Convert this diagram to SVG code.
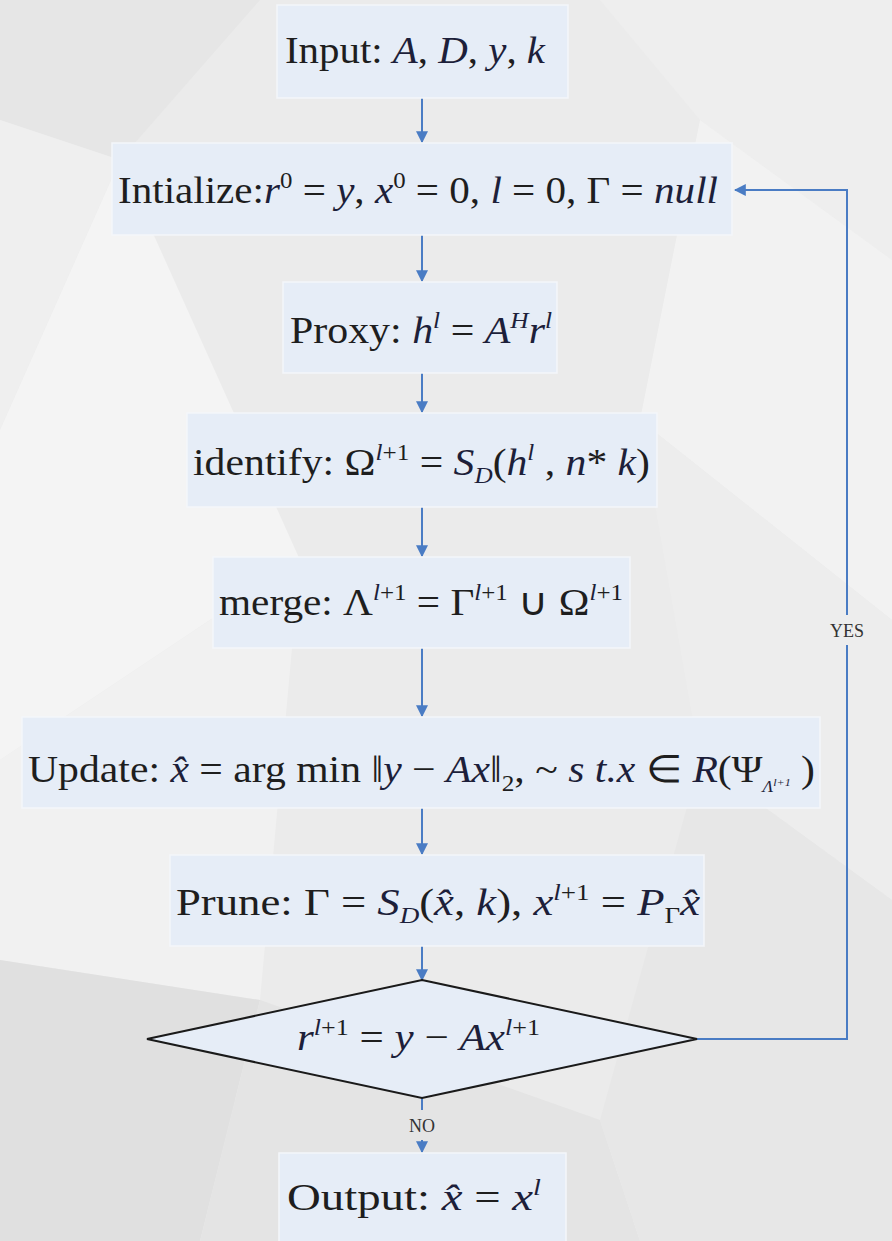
<svg xmlns="http://www.w3.org/2000/svg" width="892" height="1241" viewBox="0 0 892 1241">
<defs>
<marker id="ah" viewBox="0 0 10 10" refX="9" refY="5" markerWidth="6" markerHeight="6" orient="auto" markerUnits="strokeWidth">
<path d="M0,0 L10,5 L0,10 z" fill="#4a7cc4"/>
</marker>
</defs>
<style>
.bx{fill:#e6edf7;stroke:#f4f6fa;stroke-width:1.5}
.dm{fill:#e6edf7;stroke:#1a1a1a;stroke-width:2}
.t{font-family:"Liberation Serif","Times New Roman",serif;font-size:38px;fill:#1e1e1e}
.m{font-style:italic;fill:#1d1f3a}
.s{font-size:23px}
.c{stroke:#4a7cc4;stroke-width:2;fill:none}
.lb{font-family:"Liberation Serif","Times New Roman",serif;font-size:18px;fill:#333;text-anchor:middle}
</style>
<g id="background">
<rect x="0" y="0" width="892" height="1241" fill="#ebebeb"/>
<polygon points="0,0 260,0 120,160 0,120" fill="#e6e6e6"/>
<polygon points="0,120 120,160 0,430" fill="#efefef"/>
<polygon points="0,430 120,160 300,560 0,760" fill="#f4f4f4"/>
<polygon points="600,0 892,0 892,260 700,120" fill="#eeeeee"/>
<polygon points="700,120 892,260 892,620 640,420" fill="#f2f2f2"/>
<polygon points="640,420 892,620 892,900 700,760" fill="#ededed"/>
<polygon points="0,760 300,560 260,1000 0,960" fill="#f1f1f1"/>
<polygon points="0,960 260,1000 200,1241 0,1241" fill="#e0e0e0"/>
<polygon points="200,1241 260,1000 600,1120 640,1241" fill="#e4e4e4"/>
<polygon points="700,760 892,900 892,1241 640,1241 600,1120" fill="#e7e7e7"/>
</g>
<g id="connectors">
<line class="c" x1="422" y1="98" x2="422" y2="142" marker-end="url(#ah)"/>
<line class="c" x1="422" y1="235" x2="422" y2="281" marker-end="url(#ah)"/>
<line class="c" x1="422" y1="373" x2="422" y2="412" marker-end="url(#ah)"/>
<line class="c" x1="422" y1="507" x2="422" y2="556" marker-end="url(#ah)"/>
<line class="c" x1="422" y1="648" x2="422" y2="716" marker-end="url(#ah)"/>
<line class="c" x1="422" y1="808" x2="422" y2="854" marker-end="url(#ah)"/>
<line class="c" x1="422" y1="946" x2="422" y2="980" marker-end="url(#ah)"/>
<line class="c" x1="422" y1="1098" x2="422" y2="1110"/>
<line class="c" x1="422" y1="1140" x2="422" y2="1152" marker-end="url(#ah)"/>
<polyline class="c" points="697,1039 847,1039 847,645"/>
<polyline class="c" points="847,615 847,190 735,190" marker-end="url(#ah)"/>
<text class="lb" x="847" y="637">YES</text>
<text class="lb" x="422" y="1132">NO</text>
</g>
<g id="input">
<rect class="bx" x="277" y="5" width="291" height="93"/>
<text class="t" x="285" y="63" textLength="260" lengthAdjust="spacingAndGlyphs">Input: <tspan class="m">A</tspan>, <tspan class="m">D</tspan>, <tspan class="m">y</tspan>, <tspan class="m">k</tspan></text>
</g>
<g id="initialize">
<rect class="bx" x="112" y="143" width="620" height="92"/>
<text class="t" x="118" y="203" textLength="600" lengthAdjust="spacingAndGlyphs">Intialize:<tspan class="m">r</tspan><tspan class="s" dy="-15">0</tspan><tspan dy="15"> = </tspan><tspan class="m">y</tspan>, <tspan class="m">x</tspan><tspan class="s" dy="-15">0</tspan><tspan dy="15"> = 0, </tspan><tspan class="m">l</tspan> = 0, Γ = <tspan class="m">null</tspan></text>
</g>
<g id="proxy">
<rect class="bx" x="283" y="282" width="274" height="91"/>
<text class="t" x="290" y="343" textLength="262" lengthAdjust="spacingAndGlyphs">Proxy: <tspan class="m">h</tspan><tspan class="s m" dy="-15">l</tspan><tspan dy="15"> = </tspan><tspan class="m">A</tspan><tspan class="s m" dy="-15">H</tspan><tspan class="m" dy="15">r</tspan><tspan class="s m" dy="-15">l</tspan></text>
</g>
<g id="identify">
<rect class="bx" x="187" y="413" width="470" height="94"/>
<text class="t" x="193" y="475" textLength="457" lengthAdjust="spacingAndGlyphs">identify: Ω<tspan class="s" dy="-15"><tspan class="m">l</tspan>+1</tspan><tspan dy="15"> = </tspan><tspan class="m">S</tspan><tspan class="s m" dy="8">D</tspan><tspan dy="-8">(</tspan><tspan class="m">h</tspan><tspan class="s m" dy="-15">l</tspan><tspan dy="15"> , </tspan><tspan class="m">n</tspan>* <tspan class="m">k</tspan>)</text>
</g>
<g id="merge">
<rect class="bx" x="213" y="557" width="417" height="91"/>
<text class="t" x="219" y="615" textLength="404" lengthAdjust="spacingAndGlyphs">merge: Λ<tspan class="s" dy="-15"><tspan class="m">l</tspan>+1</tspan><tspan dy="15"> = Γ</tspan><tspan class="s" dy="-15"><tspan class="m">l</tspan>+1</tspan><tspan dy="15"> ∪ Ω</tspan><tspan class="s" dy="-15"><tspan class="m">l</tspan>+1</tspan></text>
</g>
<g id="update">
<rect class="bx" x="22" y="717" width="798" height="91"/>
<text class="t" x="28" y="782" textLength="787" lengthAdjust="spacingAndGlyphs">Update: <tspan class="m">x̂</tspan> = arg min ‖<tspan class="m">y</tspan> − <tspan class="m">Ax</tspan>‖<tspan class="s" dy="9">2</tspan><tspan dy="-9">, ~ </tspan><tspan class="m">s t.x</tspan> ∈ <tspan class="m">R</tspan>(Ψ<tspan class="m" font-size="16" dy="10">Λ</tspan><tspan class="m" font-size="11" dy="-6">l+1</tspan><tspan dy="-4"> )</tspan></text>
</g>
<g id="prune">
<rect class="bx" x="170" y="855" width="534" height="91"/>
<text class="t" x="176" y="915" textLength="524" lengthAdjust="spacingAndGlyphs">Prune: Γ = <tspan class="m">S</tspan><tspan class="s m" dy="8">D</tspan><tspan dy="-8">(</tspan><tspan class="m">x̂</tspan>, <tspan class="m">k</tspan>), <tspan class="m">x</tspan><tspan class="s" dy="-15"><tspan class="m">l</tspan>+1</tspan><tspan dy="15"> = </tspan><tspan class="m">P</tspan><tspan class="s" dy="8">Γ</tspan><tspan class="m" dy="-8">x̂</tspan></text>
</g>
<g id="decision">
<polygon class="dm" points="422,980 697,1039 422,1098 147,1039"/>
<text class="t" x="297" y="1050" textLength="243" lengthAdjust="spacingAndGlyphs"><tspan class="m">r</tspan><tspan class="s" dy="-15"><tspan class="m">l</tspan>+1</tspan><tspan dy="15"> = </tspan><tspan class="m">y</tspan> − <tspan class="m">Ax</tspan><tspan class="s" dy="-15"><tspan class="m">l</tspan>+1</tspan></text>
</g>
<g id="output">
<rect class="bx" x="279" y="1153" width="287" height="92"/>
<text class="t" x="287" y="1210" textLength="254" lengthAdjust="spacingAndGlyphs">Output:   <tspan class="m">x̂</tspan> = <tspan class="m">x</tspan><tspan class="s m" dy="-15">l</tspan></text>
</g>
</svg>
